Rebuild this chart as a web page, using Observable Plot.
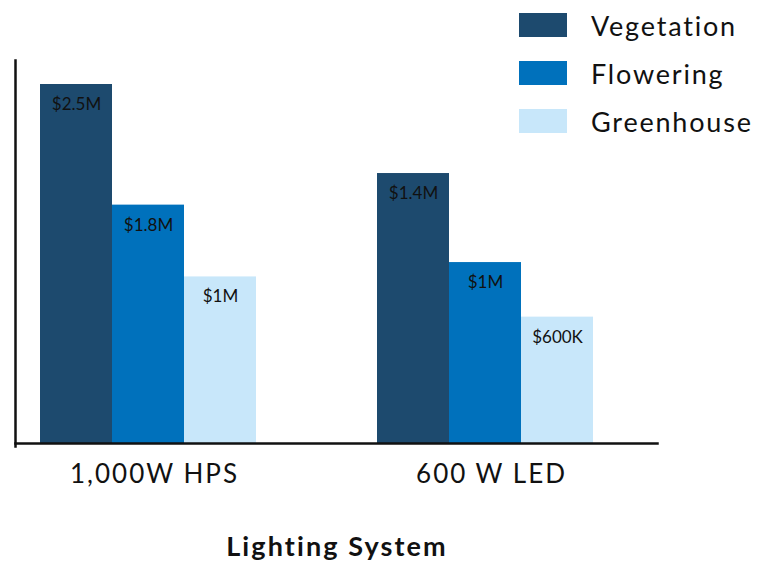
<!DOCTYPE html>
<html>
<head>
<meta charset="utf-8">
<script src="https://cdn.jsdelivr.net/npm/d3@7"></script>
<script src="https://cdn.jsdelivr.net/npm/@observablehq/plot@0.6"></script>
<style>
  html, body { margin: 0; padding: 0; background: #fff; }
  #wrap { position: relative; width: 763px; height: 561px; font-family: Lato, sans-serif; }
  #legend { position: absolute; left: 519px; top: 13px; }
  .row { display: flex; align-items: center; height: 24px; margin-bottom: 24px; }
  .sw { width: 48px; height: 24px; margin-right: 24px; }
  .lab { font-size: 27px; letter-spacing: 1.8px; color: #111; }
</style>
</head>
<body>
<div id="wrap"><div id="legend"></div></div>
<script>
// Categories
const groups = ["1,000W HPS", "600 W LED"];
const series = ["Vegetation", "Flowering", "Greenhouse"];
const colors = ["#1d4a6e", "#0071bc", "#c8e7fa"];
// Bar heights as drawn (in $M)
const hpsValues = [2.5, 1.66, 1.16];
const ledValues = [1.88, 1.26, 0.88];
// Value labels printed in bars
const hpsLabels = ["$2.5M", "$1.8M", "$1M"];
const ledLabels = ["$1.4M", "$1M", "$600K"];
const axisTitle = "Lighting System";

const data = [];
series.forEach((s, i) => {
  data.push({group: groups[0], series: s, value: hpsValues[i], label: hpsLabels[i]});
  data.push({group: groups[1], series: s, value: ledValues[i], label: ledLabels[i]});
});

const chart = Plot.plot({
  width: 763,
  height: 561,
  marginLeft: 15,
  marginRight: 106,
  marginTop: 60,
  marginBottom: 118,
  style: {fontFamily: "Lato, sans-serif", background: "transparent"},
  fx: {domain: groups, paddingInner: 121 / 337, paddingOuter: 0.132, align: 0.281},
  x: {domain: series, padding: 0, axis: null},
  y: {domain: [0, 2.5], range: [443, 84], axis: null},
  color: {domain: series, range: colors},
  marks: [
    Plot.barY(data, {fx: "group", x: "series", y: "value", fill: "series"}),
    Plot.text(data, {fx: "group", x: "series", y: "value", text: "label", dy: 20, fontSize: 17, fill: "#111", style: "letter-spacing:0.5px"}),
    Plot.frame({anchor: "left", stroke: "#111", strokeWidth: 2.5, insetLeft: -25, insetBottom: -3, facet: "super"}),
    Plot.frame({anchor: "bottom", stroke: "#111", strokeWidth: 2.5, insetLeft: -25, insetRight: -64, facet: "super"}),
    Plot.axisFx({anchor: "bottom", tickSize: 0, tickPadding: 21, fontSize: 26, label: null, dx: 6, fill: "#111"}),
    Plot.text([axisTitle], {text: d => d, frameAnchor: "bottom", dy: 112, dx: 20, fontSize: 27, fontWeight: "bold", fill: "#111", facet: "super"})
  ]
});
chart.querySelectorAll('[aria-label="fx-axis tick label"] text').forEach(t => t.style.letterSpacing = "2px");
chart.querySelectorAll('g[aria-label="text"] text').forEach(t => {
  if (t.textContent === axisTitle) t.style.letterSpacing = "2.1px";
});
document.getElementById("wrap").prepend(chart);

const legend = document.getElementById("legend");
series.forEach((s, i) => {
  const row = document.createElement("div");
  row.className = "row";
  row.innerHTML = `<div class="sw" style="background:${colors[i]}"></div><div class="lab">${s}</div>`;
  legend.appendChild(row);
});
</script>
</body>
</html>
